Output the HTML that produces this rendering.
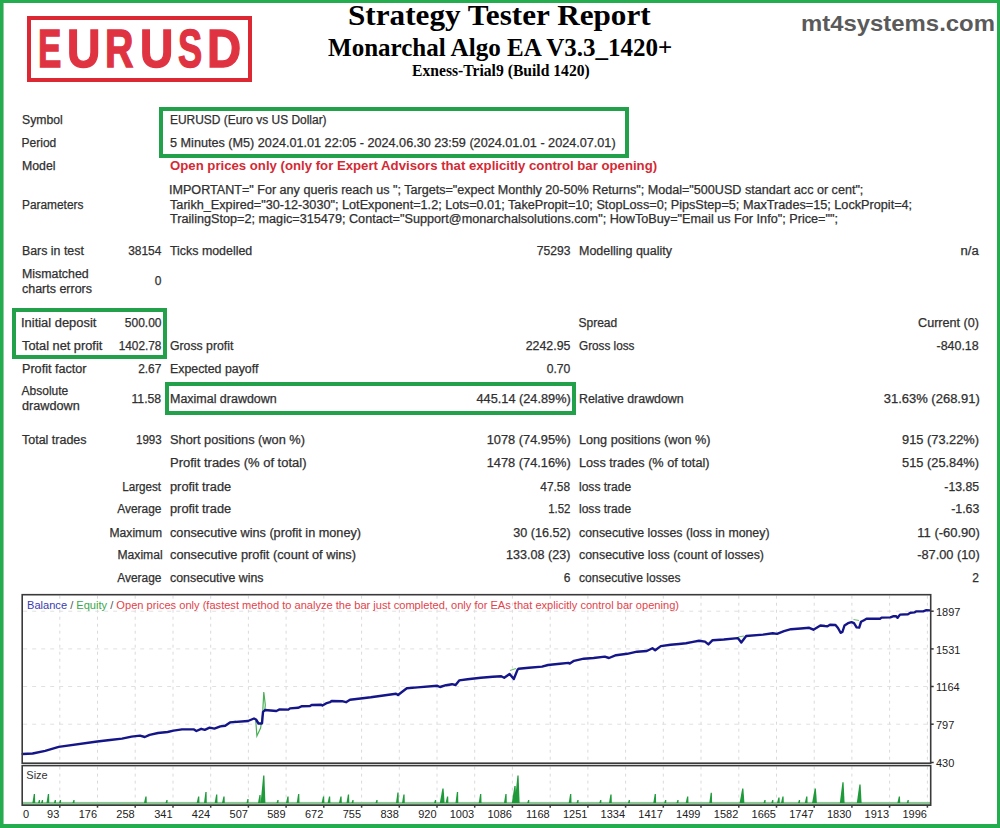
<!DOCTYPE html>
<html><head><meta charset="utf-8"><style>
html,body{margin:0;padding:0;}
body{width:1000px;height:828px;position:relative;overflow:hidden;background:#fff;}
.t{position:absolute;white-space:nowrap;}
.s{-webkit-text-stroke:0.25px currentColor;}
#frame{position:absolute;left:0;top:0;width:1000px;height:828px;box-sizing:border-box;border:3px solid #24ad4e;border-bottom-width:4px;}
</style></head><body>
<div style="position:absolute;left:26.5px;top:16px;width:225.0px;height:66px;box-sizing:border-box;border:4.3px solid #dc2833;background:none"></div>
<div style="position:absolute;left:159px;top:106.8px;width:469.5px;height:50.8px;box-sizing:border-box;border:4.4px solid #22a04a;background:none"></div>
<div style="position:absolute;left:12px;top:308px;width:155px;height:50.80000000000001px;box-sizing:border-box;border:4.4px solid #22a04a;background:none"></div>
<div style="position:absolute;left:164.6px;top:382.4px;width:411.9px;height:32.60000000000002px;box-sizing:border-box;border:4.4px solid #22a04a;background:none"></div>
<div class="t" style="top:17.04px;font-size:53px;line-height:64px;color:#e03341;font-family:'Liberation Sans', sans-serif;font-weight:bold;left:38.42px;transform-origin:0 0;transform:scale(0.6613,1.0);-webkit-text-stroke:1.4px #e03341;">E</div>
<div class="t" style="top:17.04px;font-size:53px;line-height:64px;color:#e03341;font-family:'Liberation Sans', sans-serif;font-weight:bold;left:66.88px;transform-origin:0 0;transform:scale(0.8727,1.0);-webkit-text-stroke:1.4px #e03341;">U</div>
<div class="t" style="top:17.04px;font-size:53px;line-height:64px;color:#e03341;font-family:'Liberation Sans', sans-serif;font-weight:bold;left:105.27px;transform-origin:0 0;transform:scale(0.7429,1.0);-webkit-text-stroke:1.4px #e03341;">R</div>
<div class="t" style="top:17.04px;font-size:53px;line-height:64px;color:#e03341;font-family:'Liberation Sans', sans-serif;font-weight:bold;left:140.09px;transform-origin:0 0;transform:scale(0.8697,1.0);-webkit-text-stroke:1.4px #e03341;">U</div>
<div class="t" style="top:17.04px;font-size:53px;line-height:64px;color:#e03341;font-family:'Liberation Sans', sans-serif;font-weight:bold;left:178.32px;transform-origin:0 0;transform:scale(0.6848,1.0);-webkit-text-stroke:1.4px #e03341;">S</div>
<div class="t" style="top:17.04px;font-size:53px;line-height:64px;color:#e03341;font-family:'Liberation Sans', sans-serif;font-weight:bold;left:207.13px;transform-origin:0 0;transform:scale(0.8912,1.0);-webkit-text-stroke:1.4px #e03341;">D</div>
<div class="t" style="top:-2.66px;font-size:30.4px;line-height:36px;color:#000;font-family:'Liberation Serif', serif;font-weight:bold;left:347.97px;transform-origin:0 0;transform:scale(1.0267,1.0);">Strategy Tester Report</div>
<div class="t" style="top:32.06px;font-size:25.6px;line-height:31px;color:#000;font-family:'Liberation Serif', serif;font-weight:bold;left:328.00px;transform-origin:0 0;transform:scale(0.9781,1.0);">Monarchal Algo EA V3.3_1420+</div>
<div class="t" style="top:62.23px;font-size:16.2px;line-height:19px;color:#000;font-family:'Liberation Serif', serif;font-weight:bold;left:412.00px;transform-origin:0 0;transform:scale(0.9658,1.0);">Exness-Trial9 (Build 1420)</div>
<div class="t" style="top:10.98px;font-size:22px;line-height:26px;color:#5a5a5a;font-family:'Liberation Sans', sans-serif;font-weight:bold;left:800.51px;transform-origin:0 0;transform:scale(1.0860,1.0);">mt4systems.com</div>
<div class="t s" style="top:113.04px;font-size:12px;line-height:14px;color:#303030;font-family:'Liberation Sans', sans-serif;left:21.60px;transform-origin:0 0;transform:scale(1.0166,1.0);">Symbol</div>
<div class="t s" style="top:113.04px;font-size:12px;line-height:14px;color:#303030;font-family:'Liberation Sans', sans-serif;left:170.40px;transform-origin:0 0;transform:scale(0.9951,1.0);">EURUSD (Euro vs US Dollar)</div>
<div class="t s" style="top:136.34px;font-size:12px;line-height:14px;color:#303030;font-family:'Liberation Sans', sans-serif;left:21.60px;transform-origin:0 0;">Period</div>
<div class="t s" style="top:136.34px;font-size:12px;line-height:14px;color:#303030;font-family:'Liberation Sans', sans-serif;left:170.40px;transform-origin:0 0;transform:scale(1.0535,1.0);">5 Minutes (M5) 2024.01.01 22:05 - 2024.06.30 23:59 (2024.01.01 - 2024.07.01)</div>
<div class="t s" style="top:159.24px;font-size:12px;line-height:14px;color:#303030;font-family:'Liberation Sans', sans-serif;left:21.60px;transform-origin:0 0;transform:scale(1.0244,1.0);">Model</div>
<div class="t" style="top:159.24px;font-size:12px;line-height:14px;color:#d42a34;font-family:'Liberation Sans', sans-serif;font-weight:bold;left:170.40px;transform-origin:0 0;transform:scale(1.0980,1.0);">Open prices only (only for Expert Advisors that explicitly control bar opening)</div>
<div class="t s" style="top:197.84px;font-size:12px;line-height:14px;color:#303030;font-family:'Liberation Sans', sans-serif;left:21.60px;transform-origin:0 0;transform:scale(0.9900,1.0);">Parameters</div>
<div class="t s" style="top:182.84px;font-size:12px;line-height:14px;color:#303030;font-family:'Liberation Sans', sans-serif;left:169.35px;transform-origin:0 0;transform:scale(1.0486,1.0);">IMPORTANT=" For any queris reach us "; Targets="expect Monthly 20-50% Returns"; Modal="500USD standart acc or cent";</div>
<div class="t s" style="top:197.84px;font-size:12px;line-height:14px;color:#303030;font-family:'Liberation Sans', sans-serif;left:170.40px;transform-origin:0 0;transform:scale(1.0557,1.0);">Tarikh_Expired="30-12-3030"; LotExponent=1.2; Lots=0.01; TakePropit=10; StopLoss=0; PipsStep=5; MaxTrades=15; LockPropit=4;</div>
<div class="t s" style="top:212.34px;font-size:12px;line-height:14px;color:#303030;font-family:'Liberation Sans', sans-serif;left:170.40px;transform-origin:0 0;transform:scale(1.0548,1.0);">TrailingStop=2; magic=315479; Contact="Support@monarchalsolutions.com"; HowToBuy="Email us For Info"; Price="";</div>
<div class="t s" style="top:244.04px;font-size:12px;line-height:14px;color:#303030;font-family:'Liberation Sans', sans-serif;left:21.60px;transform-origin:0 0;transform:scale(1.0298,1.0);">Bars in test</div>
<div class="t s" style="top:244.04px;font-size:12px;line-height:14px;color:#303030;font-family:'Liberation Sans', sans-serif;right:838.52px;transform-origin:100% 0;transform:scale(0.9942,1.0);">38154</div>
<div class="t s" style="top:244.04px;font-size:12px;line-height:14px;color:#303030;font-family:'Liberation Sans', sans-serif;left:170.40px;transform-origin:0 0;transform:scale(1.0328,1.0);">Ticks modelled</div>
<div class="t s" style="top:244.04px;font-size:12px;line-height:14px;color:#303030;font-family:'Liberation Sans', sans-serif;right:429.53px;transform-origin:100% 0;transform:scale(1.0090,1.0);">75293</div>
<div class="t s" style="top:244.04px;font-size:12px;line-height:14px;color:#303030;font-family:'Liberation Sans', sans-serif;left:578.50px;transform-origin:0 0;transform:scale(1.0404,1.0);">Modelling quality</div>
<div class="t s" style="top:244.04px;font-size:12px;line-height:14px;color:#303030;font-family:'Liberation Sans', sans-serif;right:21.05px;transform-origin:100% 0;transform:scale(1.0877,1.0);">n/a</div>
<div class="t s" style="top:266.84px;font-size:12px;line-height:14px;color:#303030;font-family:'Liberation Sans', sans-serif;left:21.60px;transform-origin:0 0;transform:scale(1.0310,1.0);">Mismatched</div>
<div class="t s" style="top:281.64px;font-size:12px;line-height:14px;color:#303030;font-family:'Liberation Sans', sans-serif;left:21.60px;transform-origin:0 0;transform:scale(1.0394,1.0);">charts errors</div>
<div class="t s" style="top:274.34px;font-size:12px;line-height:14px;color:#303030;font-family:'Liberation Sans', sans-serif;right:838.53px;transform-origin:100% 0;">0</div>
<div class="t s" style="top:315.84px;font-size:12px;line-height:14px;color:#303030;font-family:'Liberation Sans', sans-serif;left:20.52px;transform-origin:0 0;transform:scale(1.0759,1.0);">Initial deposit</div>
<div class="t s" style="top:315.84px;font-size:12px;line-height:14px;color:#303030;font-family:'Liberation Sans', sans-serif;right:838.53px;transform-origin:100% 0;">500.00</div>
<div class="t s" style="top:315.84px;font-size:12px;line-height:14px;color:#303030;font-family:'Liberation Sans', sans-serif;left:578.50px;transform-origin:0 0;">Spread</div>
<div class="t s" style="top:315.84px;font-size:12px;line-height:14px;color:#303030;font-family:'Liberation Sans', sans-serif;right:20.70px;transform-origin:100% 0;transform:scale(1.0514,1.0);">Current (0)</div>
<div class="t s" style="top:338.64px;font-size:12px;line-height:14px;color:#303030;font-family:'Liberation Sans', sans-serif;left:21.60px;transform-origin:0 0;transform:scale(1.0652,1.0);">Total net profit</div>
<div class="t s" style="top:338.64px;font-size:12px;line-height:14px;color:#303030;font-family:'Liberation Sans', sans-serif;right:838.52px;transform-origin:100% 0;transform:scale(0.9839,1.0);">1402.78</div>
<div class="t s" style="top:338.64px;font-size:12px;line-height:14px;color:#303030;font-family:'Liberation Sans', sans-serif;left:170.40px;transform-origin:0 0;transform:scale(1.0210,1.0);">Gross profit</div>
<div class="t s" style="top:338.64px;font-size:12px;line-height:14px;color:#303030;font-family:'Liberation Sans', sans-serif;right:429.54px;transform-origin:100% 0;transform:scale(1.0297,1.0);">2242.95</div>
<div class="t s" style="top:338.64px;font-size:12px;line-height:14px;color:#303030;font-family:'Liberation Sans', sans-serif;left:578.50px;transform-origin:0 0;transform:scale(0.9792,1.0);">Gross loss</div>
<div class="t s" style="top:338.64px;font-size:12px;line-height:14px;color:#303030;font-family:'Liberation Sans', sans-serif;right:21.04px;transform-origin:100% 0;transform:scale(1.0359,1.0);">-840.18</div>
<div class="t s" style="top:361.84px;font-size:12px;line-height:14px;color:#303030;font-family:'Liberation Sans', sans-serif;left:21.60px;transform-origin:0 0;transform:scale(1.0512,1.0);">Profit factor</div>
<div class="t s" style="top:361.84px;font-size:12px;line-height:14px;color:#303030;font-family:'Liberation Sans', sans-serif;right:838.52px;transform-origin:100% 0;transform:scale(0.9923,1.0);">2.67</div>
<div class="t s" style="top:361.84px;font-size:12px;line-height:14px;color:#303030;font-family:'Liberation Sans', sans-serif;left:170.40px;transform-origin:0 0;transform:scale(1.0288,1.0);">Expected payoff</div>
<div class="t s" style="top:361.84px;font-size:12px;line-height:14px;color:#303030;font-family:'Liberation Sans', sans-serif;right:429.53px;transform-origin:100% 0;transform:scale(1.0134,1.0);">0.70</div>
<div class="t s" style="top:384.24px;font-size:12px;line-height:14px;color:#303030;font-family:'Liberation Sans', sans-serif;left:21.60px;transform-origin:0 0;">Absolute</div>
<div class="t s" style="top:399.44px;font-size:12px;line-height:14px;color:#303030;font-family:'Liberation Sans', sans-serif;left:21.60px;transform-origin:0 0;transform:scale(1.0551,1.0);">drawdown</div>
<div class="t s" style="top:391.84px;font-size:12px;line-height:14px;color:#303030;font-family:'Liberation Sans', sans-serif;right:838.53px;transform-origin:100% 0;transform:scale(1.0182,1.0);">11.58</div>
<div class="t s" style="top:391.84px;font-size:12px;line-height:14px;color:#303030;font-family:'Liberation Sans', sans-serif;left:170.40px;transform-origin:0 0;transform:scale(1.0389,1.0);">Maximal drawdown</div>
<div class="t s" style="top:391.84px;font-size:12px;line-height:14px;color:#303030;font-family:'Liberation Sans', sans-serif;right:429.20px;transform-origin:100% 0;transform:scale(1.0616,1.0);">445.14 (24.89%)</div>
<div class="t s" style="top:391.84px;font-size:12px;line-height:14px;color:#303030;font-family:'Liberation Sans', sans-serif;left:578.50px;transform-origin:0 0;transform:scale(1.0327,1.0);">Relative drawdown</div>
<div class="t s" style="top:391.84px;font-size:12px;line-height:14px;color:#303030;font-family:'Liberation Sans', sans-serif;right:20.70px;transform-origin:100% 0;transform:scale(1.0819,1.0);">31.63% (268.91)</div>
<div class="t s" style="top:433.44px;font-size:12px;line-height:14px;color:#303030;font-family:'Liberation Sans', sans-serif;left:21.60px;transform-origin:0 0;transform:scale(1.0398,1.0);">Total trades</div>
<div class="t s" style="top:433.44px;font-size:12px;line-height:14px;color:#303030;font-family:'Liberation Sans', sans-serif;right:838.51px;transform-origin:100% 0;transform:scale(0.9622,1.0);">1993</div>
<div class="t s" style="top:433.44px;font-size:12px;line-height:14px;color:#303030;font-family:'Liberation Sans', sans-serif;left:170.40px;transform-origin:0 0;transform:scale(1.0653,1.0);">Short positions (won %)</div>
<div class="t s" style="top:433.44px;font-size:12px;line-height:14px;color:#303030;font-family:'Liberation Sans', sans-serif;right:429.20px;transform-origin:100% 0;transform:scale(1.0670,1.0);">1078 (74.95%)</div>
<div class="t s" style="top:433.44px;font-size:12px;line-height:14px;color:#303030;font-family:'Liberation Sans', sans-serif;left:578.50px;transform-origin:0 0;transform:scale(1.0542,1.0);">Long positions (won %)</div>
<div class="t s" style="top:433.44px;font-size:12px;line-height:14px;color:#303030;font-family:'Liberation Sans', sans-serif;right:20.70px;transform-origin:100% 0;transform:scale(1.0687,1.0);">915 (73.22%)</div>
<div class="t s" style="top:456.24px;font-size:12px;line-height:14px;color:#303030;font-family:'Liberation Sans', sans-serif;left:170.40px;transform-origin:0 0;transform:scale(1.0829,1.0);">Profit trades (% of total)</div>
<div class="t s" style="top:456.24px;font-size:12px;line-height:14px;color:#303030;font-family:'Liberation Sans', sans-serif;right:429.20px;transform-origin:100% 0;transform:scale(1.0670,1.0);">1478 (74.16%)</div>
<div class="t s" style="top:456.24px;font-size:12px;line-height:14px;color:#303030;font-family:'Liberation Sans', sans-serif;left:578.50px;transform-origin:0 0;transform:scale(1.0576,1.0);">Loss trades (% of total)</div>
<div class="t s" style="top:456.24px;font-size:12px;line-height:14px;color:#303030;font-family:'Liberation Sans', sans-serif;right:20.70px;transform-origin:100% 0;transform:scale(1.0687,1.0);">515 (25.84%)</div>
<div class="t s" style="top:479.54px;font-size:12px;line-height:14px;color:#303030;font-family:'Liberation Sans', sans-serif;right:838.85px;transform-origin:100% 0;transform:scale(0.9707,1.0);">Largest</div>
<div class="t s" style="top:479.54px;font-size:12px;line-height:14px;color:#303030;font-family:'Liberation Sans', sans-serif;left:170.40px;transform-origin:0 0;transform:scale(1.0661,1.0);">profit trade</div>
<div class="t s" style="top:479.54px;font-size:12px;line-height:14px;color:#303030;font-family:'Liberation Sans', sans-serif;right:429.52px;transform-origin:100% 0;transform:scale(0.9883,1.0);">47.58</div>
<div class="t s" style="top:479.54px;font-size:12px;line-height:14px;color:#303030;font-family:'Liberation Sans', sans-serif;left:578.50px;transform-origin:0 0;transform:scale(1.0028,1.0);">loss trade</div>
<div class="t s" style="top:479.54px;font-size:12px;line-height:14px;color:#303030;font-family:'Liberation Sans', sans-serif;right:21.03px;transform-origin:100% 0;transform:scale(1.0189,1.0);">-13.85</div>
<div class="t s" style="top:502.34px;font-size:12px;line-height:14px;color:#303030;font-family:'Liberation Sans', sans-serif;right:838.52px;transform-origin:100% 0;transform:scale(0.9932,1.0);">Average</div>
<div class="t s" style="top:502.34px;font-size:12px;line-height:14px;color:#303030;font-family:'Liberation Sans', sans-serif;left:170.40px;transform-origin:0 0;transform:scale(1.0661,1.0);">profit trade</div>
<div class="t s" style="top:502.34px;font-size:12px;line-height:14px;color:#303030;font-family:'Liberation Sans', sans-serif;right:429.51px;transform-origin:100% 0;transform:scale(0.9501,1.0);">1.52</div>
<div class="t s" style="top:502.34px;font-size:12px;line-height:14px;color:#303030;font-family:'Liberation Sans', sans-serif;left:578.50px;transform-origin:0 0;transform:scale(1.0028,1.0);">loss trade</div>
<div class="t s" style="top:502.34px;font-size:12px;line-height:14px;color:#303030;font-family:'Liberation Sans', sans-serif;right:21.04px;transform-origin:100% 0;transform:scale(1.0297,1.0);">-1.63</div>
<div class="t s" style="top:525.84px;font-size:12px;line-height:14px;color:#303030;font-family:'Liberation Sans', sans-serif;right:838.20px;transform-origin:100% 0;transform:scale(1.0095,1.0);">Maximum</div>
<div class="t s" style="top:525.84px;font-size:12px;line-height:14px;color:#303030;font-family:'Liberation Sans', sans-serif;left:170.40px;transform-origin:0 0;transform:scale(1.0568,1.0);">consecutive wins (profit in money)</div>
<div class="t s" style="top:525.84px;font-size:12px;line-height:14px;color:#303030;font-family:'Liberation Sans', sans-serif;right:429.20px;transform-origin:100% 0;transform:scale(1.0511,1.0);">30 (16.52)</div>
<div class="t s" style="top:525.84px;font-size:12px;line-height:14px;color:#303030;font-family:'Liberation Sans', sans-serif;left:578.50px;transform-origin:0 0;transform:scale(1.0274,1.0);">consecutive losses (loss in money)</div>
<div class="t s" style="top:525.84px;font-size:12px;line-height:14px;color:#303030;font-family:'Liberation Sans', sans-serif;right:20.70px;transform-origin:100% 0;transform:scale(1.0811,1.0);">11 (-60.90)</div>
<div class="t s" style="top:548.34px;font-size:12px;line-height:14px;color:#303030;font-family:'Liberation Sans', sans-serif;right:837.53px;transform-origin:100% 0;transform:scale(1.0112,1.0);">Maximal</div>
<div class="t s" style="top:548.34px;font-size:12px;line-height:14px;color:#303030;font-family:'Liberation Sans', sans-serif;left:170.40px;transform-origin:0 0;transform:scale(1.0644,1.0);">consecutive profit (count of wins)</div>
<div class="t s" style="top:548.34px;font-size:12px;line-height:14px;color:#303030;font-family:'Liberation Sans', sans-serif;right:429.20px;transform-origin:100% 0;transform:scale(1.0476,1.0);">133.08 (23)</div>
<div class="t s" style="top:548.34px;font-size:12px;line-height:14px;color:#303030;font-family:'Liberation Sans', sans-serif;left:578.50px;transform-origin:0 0;transform:scale(1.0311,1.0);">consecutive loss (count of losses)</div>
<div class="t s" style="top:548.34px;font-size:12px;line-height:14px;color:#303030;font-family:'Liberation Sans', sans-serif;right:20.70px;transform-origin:100% 0;transform:scale(1.0647,1.0);">-87.00 (10)</div>
<div class="t s" style="top:571.44px;font-size:12px;line-height:14px;color:#303030;font-family:'Liberation Sans', sans-serif;right:838.52px;transform-origin:100% 0;transform:scale(0.9932,1.0);">Average</div>
<div class="t s" style="top:571.44px;font-size:12px;line-height:14px;color:#303030;font-family:'Liberation Sans', sans-serif;left:170.40px;transform-origin:0 0;transform:scale(1.0308,1.0);">consecutive wins</div>
<div class="t s" style="top:571.44px;font-size:12px;line-height:14px;color:#303030;font-family:'Liberation Sans', sans-serif;right:429.53px;transform-origin:100% 0;">6</div>
<div class="t s" style="top:571.44px;font-size:12px;line-height:14px;color:#303030;font-family:'Liberation Sans', sans-serif;left:578.50px;transform-origin:0 0;transform:scale(1.0078,1.0);">consecutive losses</div>
<div class="t s" style="top:571.44px;font-size:12px;line-height:14px;color:#303030;font-family:'Liberation Sans', sans-serif;right:21.03px;transform-origin:100% 0;">2</div>
<svg style="position:absolute;left:0;top:0" width="1000" height="828">
<line x1="59.8" y1="595.7" x2="59.8" y2="762.2" stroke="#dadada" stroke-width="1" stroke-dasharray="3,4"/>
<line x1="59.8" y1="766.6" x2="59.8" y2="804.2" stroke="#dadada" stroke-width="1" stroke-dasharray="3,4"/>
<line x1="97.5" y1="595.7" x2="97.5" y2="762.2" stroke="#dadada" stroke-width="1" stroke-dasharray="3,4"/>
<line x1="97.5" y1="766.6" x2="97.5" y2="804.2" stroke="#dadada" stroke-width="1" stroke-dasharray="3,4"/>
<line x1="135.2" y1="595.7" x2="135.2" y2="762.2" stroke="#dadada" stroke-width="1" stroke-dasharray="3,4"/>
<line x1="135.2" y1="766.6" x2="135.2" y2="804.2" stroke="#dadada" stroke-width="1" stroke-dasharray="3,4"/>
<line x1="173.0" y1="595.7" x2="173.0" y2="762.2" stroke="#dadada" stroke-width="1" stroke-dasharray="3,4"/>
<line x1="173.0" y1="766.6" x2="173.0" y2="804.2" stroke="#dadada" stroke-width="1" stroke-dasharray="3,4"/>
<line x1="210.7" y1="595.7" x2="210.7" y2="762.2" stroke="#dadada" stroke-width="1" stroke-dasharray="3,4"/>
<line x1="210.7" y1="766.6" x2="210.7" y2="804.2" stroke="#dadada" stroke-width="1" stroke-dasharray="3,4"/>
<line x1="248.4" y1="595.7" x2="248.4" y2="762.2" stroke="#dadada" stroke-width="1" stroke-dasharray="3,4"/>
<line x1="248.4" y1="766.6" x2="248.4" y2="804.2" stroke="#dadada" stroke-width="1" stroke-dasharray="3,4"/>
<line x1="286.1" y1="595.7" x2="286.1" y2="762.2" stroke="#dadada" stroke-width="1" stroke-dasharray="3,4"/>
<line x1="286.1" y1="766.6" x2="286.1" y2="804.2" stroke="#dadada" stroke-width="1" stroke-dasharray="3,4"/>
<line x1="323.8" y1="595.7" x2="323.8" y2="762.2" stroke="#dadada" stroke-width="1" stroke-dasharray="3,4"/>
<line x1="323.8" y1="766.6" x2="323.8" y2="804.2" stroke="#dadada" stroke-width="1" stroke-dasharray="3,4"/>
<line x1="361.6" y1="595.7" x2="361.6" y2="762.2" stroke="#dadada" stroke-width="1" stroke-dasharray="3,4"/>
<line x1="361.6" y1="766.6" x2="361.6" y2="804.2" stroke="#dadada" stroke-width="1" stroke-dasharray="3,4"/>
<line x1="399.3" y1="595.7" x2="399.3" y2="762.2" stroke="#dadada" stroke-width="1" stroke-dasharray="3,4"/>
<line x1="399.3" y1="766.6" x2="399.3" y2="804.2" stroke="#dadada" stroke-width="1" stroke-dasharray="3,4"/>
<line x1="437.0" y1="595.7" x2="437.0" y2="762.2" stroke="#dadada" stroke-width="1" stroke-dasharray="3,4"/>
<line x1="437.0" y1="766.6" x2="437.0" y2="804.2" stroke="#dadada" stroke-width="1" stroke-dasharray="3,4"/>
<line x1="474.7" y1="595.7" x2="474.7" y2="762.2" stroke="#dadada" stroke-width="1" stroke-dasharray="3,4"/>
<line x1="474.7" y1="766.6" x2="474.7" y2="804.2" stroke="#dadada" stroke-width="1" stroke-dasharray="3,4"/>
<line x1="512.4" y1="595.7" x2="512.4" y2="762.2" stroke="#dadada" stroke-width="1" stroke-dasharray="3,4"/>
<line x1="512.4" y1="766.6" x2="512.4" y2="804.2" stroke="#dadada" stroke-width="1" stroke-dasharray="3,4"/>
<line x1="550.2" y1="595.7" x2="550.2" y2="762.2" stroke="#dadada" stroke-width="1" stroke-dasharray="3,4"/>
<line x1="550.2" y1="766.6" x2="550.2" y2="804.2" stroke="#dadada" stroke-width="1" stroke-dasharray="3,4"/>
<line x1="587.9" y1="595.7" x2="587.9" y2="762.2" stroke="#dadada" stroke-width="1" stroke-dasharray="3,4"/>
<line x1="587.9" y1="766.6" x2="587.9" y2="804.2" stroke="#dadada" stroke-width="1" stroke-dasharray="3,4"/>
<line x1="625.6" y1="595.7" x2="625.6" y2="762.2" stroke="#dadada" stroke-width="1" stroke-dasharray="3,4"/>
<line x1="625.6" y1="766.6" x2="625.6" y2="804.2" stroke="#dadada" stroke-width="1" stroke-dasharray="3,4"/>
<line x1="663.3" y1="595.7" x2="663.3" y2="762.2" stroke="#dadada" stroke-width="1" stroke-dasharray="3,4"/>
<line x1="663.3" y1="766.6" x2="663.3" y2="804.2" stroke="#dadada" stroke-width="1" stroke-dasharray="3,4"/>
<line x1="701.0" y1="595.7" x2="701.0" y2="762.2" stroke="#dadada" stroke-width="1" stroke-dasharray="3,4"/>
<line x1="701.0" y1="766.6" x2="701.0" y2="804.2" stroke="#dadada" stroke-width="1" stroke-dasharray="3,4"/>
<line x1="738.8" y1="595.7" x2="738.8" y2="762.2" stroke="#dadada" stroke-width="1" stroke-dasharray="3,4"/>
<line x1="738.8" y1="766.6" x2="738.8" y2="804.2" stroke="#dadada" stroke-width="1" stroke-dasharray="3,4"/>
<line x1="776.5" y1="595.7" x2="776.5" y2="762.2" stroke="#dadada" stroke-width="1" stroke-dasharray="3,4"/>
<line x1="776.5" y1="766.6" x2="776.5" y2="804.2" stroke="#dadada" stroke-width="1" stroke-dasharray="3,4"/>
<line x1="814.2" y1="595.7" x2="814.2" y2="762.2" stroke="#dadada" stroke-width="1" stroke-dasharray="3,4"/>
<line x1="814.2" y1="766.6" x2="814.2" y2="804.2" stroke="#dadada" stroke-width="1" stroke-dasharray="3,4"/>
<line x1="851.9" y1="595.7" x2="851.9" y2="762.2" stroke="#dadada" stroke-width="1" stroke-dasharray="3,4"/>
<line x1="851.9" y1="766.6" x2="851.9" y2="804.2" stroke="#dadada" stroke-width="1" stroke-dasharray="3,4"/>
<line x1="889.6" y1="595.7" x2="889.6" y2="762.2" stroke="#dadada" stroke-width="1" stroke-dasharray="3,4"/>
<line x1="889.6" y1="766.6" x2="889.6" y2="804.2" stroke="#dadada" stroke-width="1" stroke-dasharray="3,4"/>
<line x1="927.4" y1="595.7" x2="927.4" y2="762.2" stroke="#dadada" stroke-width="1" stroke-dasharray="3,4"/>
<line x1="927.4" y1="766.6" x2="927.4" y2="804.2" stroke="#dadada" stroke-width="1" stroke-dasharray="3,4"/>
<line x1="23.2" y1="611.2" x2="929.7" y2="611.2" stroke="#e0e0e0" stroke-width="1" stroke-dasharray="4,5"/>
<line x1="23.2" y1="648.9" x2="929.7" y2="648.9" stroke="#e0e0e0" stroke-width="1" stroke-dasharray="4,5"/>
<line x1="23.2" y1="686.5" x2="929.7" y2="686.5" stroke="#e0e0e0" stroke-width="1" stroke-dasharray="4,5"/>
<line x1="23.2" y1="724.2" x2="929.7" y2="724.2" stroke="#e0e0e0" stroke-width="1" stroke-dasharray="4,5"/>
<rect x="22.2" y="801.9" width="908.5" height="3.2" fill="#8cc694"/>
<path d="M32.4,803 L33.8,794.0 L35.0,794.0 L35.2,803 Z" fill="#1f9a3a"/>
<path d="M38.0,803 L38.9,800.0 L40.1,800.0 L40.0,803 Z" fill="#1f9a3a"/>
<path d="M41.0,803 L41.9,800.0 L43.1,800.0 L43.0,803 Z" fill="#1f9a3a"/>
<path d="M46.5,803 L47.9,794.0 L49.1,794.0 L49.3,803 Z" fill="#1f9a3a"/>
<path d="M53.9,803 L54.8,800.0 L56.0,800.0 L55.9,803 Z" fill="#1f9a3a"/>
<path d="M59.0,803 L59.9,800.0 L61.1,800.0 L61.0,803 Z" fill="#1f9a3a"/>
<path d="M72.5,803 L73.4,800.0 L74.6,800.0 L74.5,803 Z" fill="#1f9a3a"/>
<path d="M144.0,803 L145.4,796.5 L146.6,796.5 L146.8,803 Z" fill="#1f9a3a"/>
<path d="M165.5,803 L166.4,800.0 L167.6,800.0 L167.5,803 Z" fill="#1f9a3a"/>
<path d="M196.7,803 L198.1,796.5 L199.3,796.5 L199.5,803 Z" fill="#1f9a3a"/>
<path d="M204.0,803 L205.4,792.0 L206.6,792.0 L206.8,803 Z" fill="#1f9a3a"/>
<path d="M214.7,803 L216.1,794.4 L217.3,794.4 L217.5,803 Z" fill="#1f9a3a"/>
<path d="M222.0,803 L223.4,796.5 L224.6,796.5 L224.8,803 Z" fill="#1f9a3a"/>
<path d="M246.5,803 L247.4,799.0 L248.6,799.0 L248.5,803 Z" fill="#1f9a3a"/>
<path d="M258.0,803 L259.4,795.0 L260.6,795.0 L260.8,803 Z" fill="#1f9a3a"/>
<path d="M260.6,803 L263.2,775.5 L264.4,775.5 L265.4,803 Z" fill="#1f9a3a"/>
<path d="M276.5,803 L277.4,800.0 L278.6,800.0 L278.5,803 Z" fill="#1f9a3a"/>
<path d="M286.0,803 L287.4,796.5 L288.6,796.5 L288.8,803 Z" fill="#1f9a3a"/>
<path d="M296.7,803 L298.1,794.0 L299.3,794.0 L299.5,803 Z" fill="#1f9a3a"/>
<path d="M321.6,803 L323.0,796.5 L324.2,796.5 L324.4,803 Z" fill="#1f9a3a"/>
<path d="M327.6,803 L329.0,796.5 L330.2,796.5 L330.4,803 Z" fill="#1f9a3a"/>
<path d="M339.0,803 L340.4,796.5 L341.6,796.5 L341.8,803 Z" fill="#1f9a3a"/>
<path d="M346.5,803 L347.9,794.4 L349.1,794.4 L349.3,803 Z" fill="#1f9a3a"/>
<path d="M351.5,803 L352.4,800.0 L353.6,800.0 L353.5,803 Z" fill="#1f9a3a"/>
<path d="M375.5,803 L376.4,800.0 L377.6,800.0 L377.5,803 Z" fill="#1f9a3a"/>
<path d="M396.0,803 L397.4,792.6 L398.6,792.6 L398.8,803 Z" fill="#1f9a3a"/>
<path d="M402.0,803 L403.4,794.4 L404.6,794.4 L404.8,803 Z" fill="#1f9a3a"/>
<path d="M434.1,803 L435.0,800.0 L436.2,800.0 L436.1,803 Z" fill="#1f9a3a"/>
<path d="M439.8,803 L442.4,788.4 L443.6,788.4 L444.6,803 Z" fill="#1f9a3a"/>
<path d="M445.6,803 L447.0,796.5 L448.2,796.5 L448.4,803 Z" fill="#1f9a3a"/>
<path d="M455.5,803 L456.9,792.0 L458.1,792.0 L458.3,803 Z" fill="#1f9a3a"/>
<path d="M478.7,803 L480.1,794.0 L481.3,794.0 L481.5,803 Z" fill="#1f9a3a"/>
<path d="M504.0,803 L505.4,794.0 L506.6,794.0 L506.8,803 Z" fill="#1f9a3a"/>
<path d="M511.8,803 L514.4,786.0 L515.6,786.0 L516.6,803 Z" fill="#1f9a3a"/>
<path d="M514.8,803 L517.4,775.5 L518.6,775.5 L519.6,803 Z" fill="#1f9a3a"/>
<path d="M527.2,803 L528.1,800.0 L529.3,800.0 L529.2,803 Z" fill="#1f9a3a"/>
<path d="M568.7,803 L570.1,794.0 L571.3,794.0 L571.5,803 Z" fill="#1f9a3a"/>
<path d="M576.5,803 L577.4,800.0 L578.6,800.0 L578.5,803 Z" fill="#1f9a3a"/>
<path d="M599.3,803 L600.2,800.0 L601.4,800.0 L601.3,803 Z" fill="#1f9a3a"/>
<path d="M609.0,803 L610.4,794.4 L611.6,794.4 L611.8,803 Z" fill="#1f9a3a"/>
<path d="M627.9,803 L628.8,800.0 L630.0,800.0 L629.9,803 Z" fill="#1f9a3a"/>
<path d="M653.3,803 L654.7,794.0 L655.9,794.0 L656.1,803 Z" fill="#1f9a3a"/>
<path d="M664.2,803 L665.1,800.0 L666.3,800.0 L666.2,803 Z" fill="#1f9a3a"/>
<path d="M676.5,803 L677.4,800.0 L678.6,800.0 L678.5,803 Z" fill="#1f9a3a"/>
<path d="M685.7,803 L687.1,796.5 L688.3,796.5 L688.5,803 Z" fill="#1f9a3a"/>
<path d="M709.3,803 L710.7,792.7 L711.9,792.7 L712.1,803 Z" fill="#1f9a3a"/>
<path d="M739.6,803 L742.2,788.6 L743.4,788.6 L744.4,803 Z" fill="#1f9a3a"/>
<path d="M763.5,803 L764.4,800.0 L765.6,800.0 L765.5,803 Z" fill="#1f9a3a"/>
<path d="M771.3,803 L772.2,800.0 L773.4,800.0 L773.3,803 Z" fill="#1f9a3a"/>
<path d="M777.0,803 L778.4,797.4 L779.6,797.4 L779.8,803 Z" fill="#1f9a3a"/>
<path d="M781.0,803 L782.4,796.5 L783.6,796.5 L783.8,803 Z" fill="#1f9a3a"/>
<path d="M798.0,803 L798.9,800.0 L800.1,800.0 L800.0,803 Z" fill="#1f9a3a"/>
<path d="M804.8,803 L806.2,796.5 L807.4,796.5 L807.6,803 Z" fill="#1f9a3a"/>
<path d="M812.1,803 L814.7,788.6 L815.9,788.6 L816.9,803 Z" fill="#1f9a3a"/>
<path d="M839.8,803 L842.4,782.3 L843.6,782.3 L844.6,803 Z" fill="#1f9a3a"/>
<path d="M856.8,803 L859.4,784.5 L860.6,784.5 L861.6,803 Z" fill="#1f9a3a"/>
<path d="M897.4,803 L898.8,796.5 L900.0,796.5 L900.2,803 Z" fill="#1f9a3a"/>
<path d="M906.7,803 L907.6,800.0 L908.8,800.0 L908.7,803 Z" fill="#1f9a3a"/>
<polyline points="255.8,721 256.9,736 260.6,728 262.6,714 263.8,692 265.3,705 264.6,712" fill="none" stroke="#4aae55" stroke-width="1.2"/>
<polyline points="510,670.5 516,668.5" fill="none" stroke="#6cbf70" stroke-width="1.2"/>
<polyline points="738,637 744,636" fill="none" stroke="#6cbf70" stroke-width="1.2"/>
<polyline points="853.5,619.5 859,620.5" fill="none" stroke="#6cbf70" stroke-width="1.2"/>
<polyline points="230,722 236,721" fill="none" stroke="#6cbf70" stroke-width="1.2"/>
<polyline points="22.7,754 32.6,753.5 45.2,750.8 58.7,746.9 97.3,741.5 110,740 122,738.6 131.6,736.6 140,735.6 144.8,737 149.6,734.8 158,733 167.6,732 173.6,730.6 182,729.4 194,729.4 196.4,731 201.2,728.8 204.8,729.8 209.6,727.6 214.4,728.6 220.4,726.4 225.2,725.8 230,722.4 248,721 254,718.5 256,719.5 258.5,723.5 262,723.5 263,712 265,710 276.4,711 279.6,709.4 288.4,709.6 290,708.4 298,707.8 302,706.2 310,706 311.6,705 321.2,704.8 322.4,705.6 326,703.4 330,702.2 331.6,701 342,701.2 346,702.2 350,699.8 362.7,698.2 370.8,697.3 396,693.7 398,695 406.8,688.3 417.5,687.4 437.3,685.8 440,687 446,685.2 452,684.2 455.6,685 459.2,680.4 467.6,679.2 480.8,677.8 492.8,676.8 501.2,676.2 504.2,677.8 509.6,674 513.8,679 517.6,669.6 518.6,668.8 528.8,667.8 542,666.6 548,665 560,663.8 568.4,662.9 569.8,663.6 574,660.8 583.8,658.7 593.6,658 604.8,656.6 609,658 616,655.2 627.2,653.8 637,651.7 646.8,651 652.4,648.2 655.2,650.3 660.8,646.1 670.6,644.7 679,644 686,643.3 693,641.9 699,640.8 705,641.6 708.4,644.4 712.6,640.2 723.8,639.5 737.8,638.1 741.3,642.5 746.2,636 763,634.6 772.8,633.2 777,633.9 784,631.1 791,629.2 800.8,628.5 809.2,627.8 813.4,629.7 820.4,625.5 825,626 827.5,626.2 830,624.8 835.5,625 838,628 840.6,632.8 842.4,632 844.5,625.5 848,623.2 851.5,622.2 854,623.2 856.6,627.4 859.2,627.6 861,621.8 864,620.2 866.5,618.8 880,618.8 881.6,617.6 890.4,617.4 893.6,616.2 896,616.2 897.6,617.8 900,614.6 908,614.2 910.4,612.8 914.4,612.4 916,611.4 923.2,611.4 926.4,610.2 929.6,610.4" fill="none" stroke="#15158a" stroke-width="2.4" stroke-linejoin="round" stroke-linecap="round"/>
<rect x="22.2" y="594.7" width="908.5" height="168.5" fill="none" stroke="#3a3a3a" stroke-width="1.6"/>
<rect x="22.2" y="765.6" width="908.5" height="39.6" fill="none" stroke="#3a3a3a" stroke-width="1.6"/>
<line x1="930.7" y1="611.2" x2="933.7" y2="611.2" stroke="#3a3a3a" stroke-width="1.5"/>
<line x1="930.7" y1="648.9" x2="933.7" y2="648.9" stroke="#3a3a3a" stroke-width="1.5"/>
<line x1="930.7" y1="686.5" x2="933.7" y2="686.5" stroke="#3a3a3a" stroke-width="1.5"/>
<line x1="930.7" y1="724.2" x2="933.7" y2="724.2" stroke="#3a3a3a" stroke-width="1.5"/>
<line x1="930.7" y1="762.5" x2="933.7" y2="762.5" stroke="#3a3a3a" stroke-width="1.5"/>
<line x1="59.8" y1="805.2" x2="59.8" y2="807.7" stroke="#3a3a3a" stroke-width="1.5"/>
<line x1="97.5" y1="805.2" x2="97.5" y2="807.7" stroke="#3a3a3a" stroke-width="1.5"/>
<line x1="135.2" y1="805.2" x2="135.2" y2="807.7" stroke="#3a3a3a" stroke-width="1.5"/>
<line x1="173.0" y1="805.2" x2="173.0" y2="807.7" stroke="#3a3a3a" stroke-width="1.5"/>
<line x1="210.7" y1="805.2" x2="210.7" y2="807.7" stroke="#3a3a3a" stroke-width="1.5"/>
<line x1="248.4" y1="805.2" x2="248.4" y2="807.7" stroke="#3a3a3a" stroke-width="1.5"/>
<line x1="286.1" y1="805.2" x2="286.1" y2="807.7" stroke="#3a3a3a" stroke-width="1.5"/>
<line x1="323.8" y1="805.2" x2="323.8" y2="807.7" stroke="#3a3a3a" stroke-width="1.5"/>
<line x1="361.6" y1="805.2" x2="361.6" y2="807.7" stroke="#3a3a3a" stroke-width="1.5"/>
<line x1="399.3" y1="805.2" x2="399.3" y2="807.7" stroke="#3a3a3a" stroke-width="1.5"/>
<line x1="437.0" y1="805.2" x2="437.0" y2="807.7" stroke="#3a3a3a" stroke-width="1.5"/>
<line x1="474.7" y1="805.2" x2="474.7" y2="807.7" stroke="#3a3a3a" stroke-width="1.5"/>
<line x1="512.4" y1="805.2" x2="512.4" y2="807.7" stroke="#3a3a3a" stroke-width="1.5"/>
<line x1="550.2" y1="805.2" x2="550.2" y2="807.7" stroke="#3a3a3a" stroke-width="1.5"/>
<line x1="587.9" y1="805.2" x2="587.9" y2="807.7" stroke="#3a3a3a" stroke-width="1.5"/>
<line x1="625.6" y1="805.2" x2="625.6" y2="807.7" stroke="#3a3a3a" stroke-width="1.5"/>
<line x1="663.3" y1="805.2" x2="663.3" y2="807.7" stroke="#3a3a3a" stroke-width="1.5"/>
<line x1="701.0" y1="805.2" x2="701.0" y2="807.7" stroke="#3a3a3a" stroke-width="1.5"/>
<line x1="738.8" y1="805.2" x2="738.8" y2="807.7" stroke="#3a3a3a" stroke-width="1.5"/>
<line x1="776.5" y1="805.2" x2="776.5" y2="807.7" stroke="#3a3a3a" stroke-width="1.5"/>
<line x1="814.2" y1="805.2" x2="814.2" y2="807.7" stroke="#3a3a3a" stroke-width="1.5"/>
<line x1="851.9" y1="805.2" x2="851.9" y2="807.7" stroke="#3a3a3a" stroke-width="1.5"/>
<line x1="889.6" y1="805.2" x2="889.6" y2="807.7" stroke="#3a3a3a" stroke-width="1.5"/>
<line x1="927.4" y1="805.2" x2="927.4" y2="807.7" stroke="#3a3a3a" stroke-width="1.5"/>
<text x="27" y="608.5" font-family="Liberation Sans" font-size="11" textLength="652" lengthAdjust="spacingAndGlyphs"><tspan fill="#3b3bb0">Balance</tspan><tspan fill="#555"> / </tspan><tspan fill="#3aa84a">Equity</tspan><tspan fill="#555"> / </tspan><tspan fill="#e2434b">Open prices only (fastest method to analyze the bar just completed, only for EAs that explicitly control bar opening)</tspan></text>
<text x="26.3" y="779.2" font-family="Liberation Sans" font-size="11" fill="#333">Size</text>
<text x="936" y="616.0" font-family="Liberation Sans" font-size="11" fill="#222">1897</text>
<text x="936" y="653.7" font-family="Liberation Sans" font-size="11" fill="#222">1531</text>
<text x="936" y="691.3" font-family="Liberation Sans" font-size="11" fill="#222">1164</text>
<text x="936" y="729.0" font-family="Liberation Sans" font-size="11" fill="#222">797</text>
<text x="936" y="766.7" font-family="Liberation Sans" font-size="11" fill="#222">430</text>
<text x="23" y="817.5" font-family="Liberation Sans" font-size="11" fill="#222">0</text>
<text x="59.3" y="817.5" font-family="Liberation Sans" font-size="11" fill="#222" text-anchor="end">93</text>
<text x="97.0" y="817.5" font-family="Liberation Sans" font-size="11" fill="#222" text-anchor="end">176</text>
<text x="134.7" y="817.5" font-family="Liberation Sans" font-size="11" fill="#222" text-anchor="end">258</text>
<text x="172.5" y="817.5" font-family="Liberation Sans" font-size="11" fill="#222" text-anchor="end">341</text>
<text x="210.2" y="817.5" font-family="Liberation Sans" font-size="11" fill="#222" text-anchor="end">424</text>
<text x="247.9" y="817.5" font-family="Liberation Sans" font-size="11" fill="#222" text-anchor="end">507</text>
<text x="285.6" y="817.5" font-family="Liberation Sans" font-size="11" fill="#222" text-anchor="end">589</text>
<text x="323.3" y="817.5" font-family="Liberation Sans" font-size="11" fill="#222" text-anchor="end">672</text>
<text x="361.1" y="817.5" font-family="Liberation Sans" font-size="11" fill="#222" text-anchor="end">755</text>
<text x="398.8" y="817.5" font-family="Liberation Sans" font-size="11" fill="#222" text-anchor="end">838</text>
<text x="436.5" y="817.5" font-family="Liberation Sans" font-size="11" fill="#222" text-anchor="end">920</text>
<text x="474.2" y="817.5" font-family="Liberation Sans" font-size="11" fill="#222" text-anchor="end">1003</text>
<text x="511.9" y="817.5" font-family="Liberation Sans" font-size="11" fill="#222" text-anchor="end">1086</text>
<text x="549.7" y="817.5" font-family="Liberation Sans" font-size="11" fill="#222" text-anchor="end">1168</text>
<text x="587.4" y="817.5" font-family="Liberation Sans" font-size="11" fill="#222" text-anchor="end">1251</text>
<text x="625.1" y="817.5" font-family="Liberation Sans" font-size="11" fill="#222" text-anchor="end">1334</text>
<text x="662.8" y="817.5" font-family="Liberation Sans" font-size="11" fill="#222" text-anchor="end">1417</text>
<text x="700.5" y="817.5" font-family="Liberation Sans" font-size="11" fill="#222" text-anchor="end">1499</text>
<text x="738.3" y="817.5" font-family="Liberation Sans" font-size="11" fill="#222" text-anchor="end">1582</text>
<text x="776.0" y="817.5" font-family="Liberation Sans" font-size="11" fill="#222" text-anchor="end">1665</text>
<text x="813.7" y="817.5" font-family="Liberation Sans" font-size="11" fill="#222" text-anchor="end">1747</text>
<text x="851.4" y="817.5" font-family="Liberation Sans" font-size="11" fill="#222" text-anchor="end">1830</text>
<text x="889.1" y="817.5" font-family="Liberation Sans" font-size="11" fill="#222" text-anchor="end">1913</text>
<text x="926.9" y="817.5" font-family="Liberation Sans" font-size="11" fill="#222" text-anchor="end">1996</text>
</svg>
<div id="frame"></div>
<div style="position:absolute;left:3px;top:3px;width:1px;height:821px;background:rgba(36,150,70,0.5)"></div>
</body></html>
